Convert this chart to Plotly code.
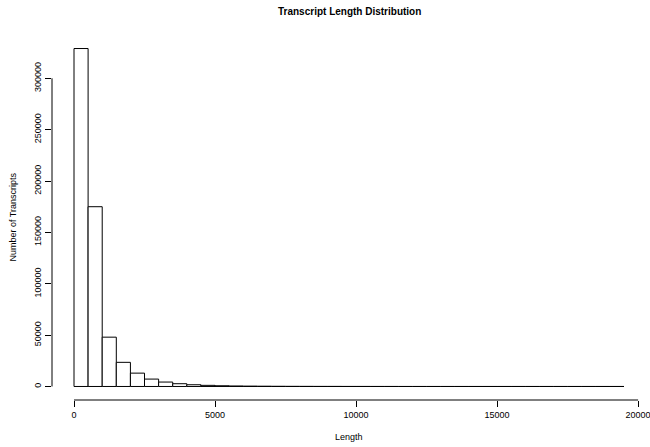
import plotly.graph_objects as go

# Histogram data (bin width 500, from 0 to 19500)
bin_width = 500
bin_starts = [i * 500 for i in range(39)]
counts = [329000, 175000, 48000, 23500, 13000, 7200, 4300, 2700, 1700, 1100,
          700, 480, 330, 240, 170, 130, 95, 70, 55, 40,
          32, 25, 20, 15, 12, 0, 5, 3, 0, 0,
          0, 0, 0, 0, 0, 0, 0, 0, 0]
x_ticks = [0, 5000, 10000, 15000, 20000]
y_ticks = [0, 50000, 100000, 150000, 200000, 250000, 300000]

centers = [s + bin_width / 2 for s in bin_starts]

FAM = "Liberation Sans, Arial, sans-serif"
font = dict(family=FAM, size=9, color="black")

W, H = 650, 447
L, R, T, B = 52, 4, 35, 47

fig = go.Figure()
fig.add_trace(go.Bar(
    x=centers, y=counts, width=[bin_width] * len(counts),
    marker=dict(color="white", line=dict(color="black", width=1)),
    hoverinfo="skip",
))

xmax_data = bin_starts[-1] + bin_width
xpad = 0.04 * xmax_data
ymax = max(counts)
ypad = 0.04 * ymax

fig.update_layout(
    width=W, height=H,
    margin=dict(l=L, r=R, t=T, b=B, autoexpand=False),
    paper_bgcolor="white", plot_bgcolor="white",
    showlegend=False, bargap=0,
    font=font,
    xaxis=dict(range=[-xpad, xmax_data + xpad], tickvals=x_ticks,
               ticktext=[str(v) for v in x_ticks],
               ticks="outside", ticklen=6, tickcolor="black", tickwidth=1,
               showgrid=False, zeroline=False, showline=False,
               automargin=False, tickfont=font, ticklabeloverflow="allow"),
    yaxis=dict(range=[-ypad, ymax + ypad], tickvals=y_ticks,
               ticktext=[str(v) for v in y_ticks],
               ticks="outside", ticklen=6, tickcolor="black", tickwidth=1,
               tickangle=-90,
               showgrid=False, zeroline=False, showline=False,
               automargin=False, tickfont=font, ticklabeloverflow="allow"),
)

pw = W - L - R
ph = H - T - B
fig.add_annotation(text="<b>Transcript Length Distribution</b>", xref="paper", yref="paper",
                   x=0.5, y=1 + (T - 12) / ph, xanchor="center", yanchor="middle",
                   showarrow=False, font=dict(family=FAM, size=10, color="black"))
fig.add_annotation(text="Length", xref="paper", yref="paper",
                   x=0.5, y=-(437 - (H - B)) / ph, xanchor="center", yanchor="middle",
                   showarrow=False, font=font)
fig.add_annotation(text="Number of Transcripts", xref="paper", yref="paper",
                   x=-(L - 12) / pw, y=0.5, xanchor="center", yanchor="middle",
                   textangle=-90, showarrow=False, font=font)

# R-style axis lines spanning only the tick range
fig.add_shape(type="line", xref="x", yref="paper", x0=x_ticks[0], x1=x_ticks[-1],
              y0=0, y1=0, line=dict(color="black", width=1))
fig.add_shape(type="line", xref="paper", yref="y", x0=0, x1=0,
              y0=y_ticks[0], y1=y_ticks[-1], line=dict(color="black", width=1))

fig.write_html("out.html", config={"displayModeBar": False, "staticPlot": True})

# remove default page margins so the figure sits at the window's top-left corner
with open("out.html", "r", encoding="utf-8") as f:
    html = f.read()
html = html.replace("<head>", "<head><style>html,body{margin:0;padding:0;overflow:hidden;}</style>", 1)
with open("out.html", "w", encoding="utf-8") as f:
    f.write(html)
